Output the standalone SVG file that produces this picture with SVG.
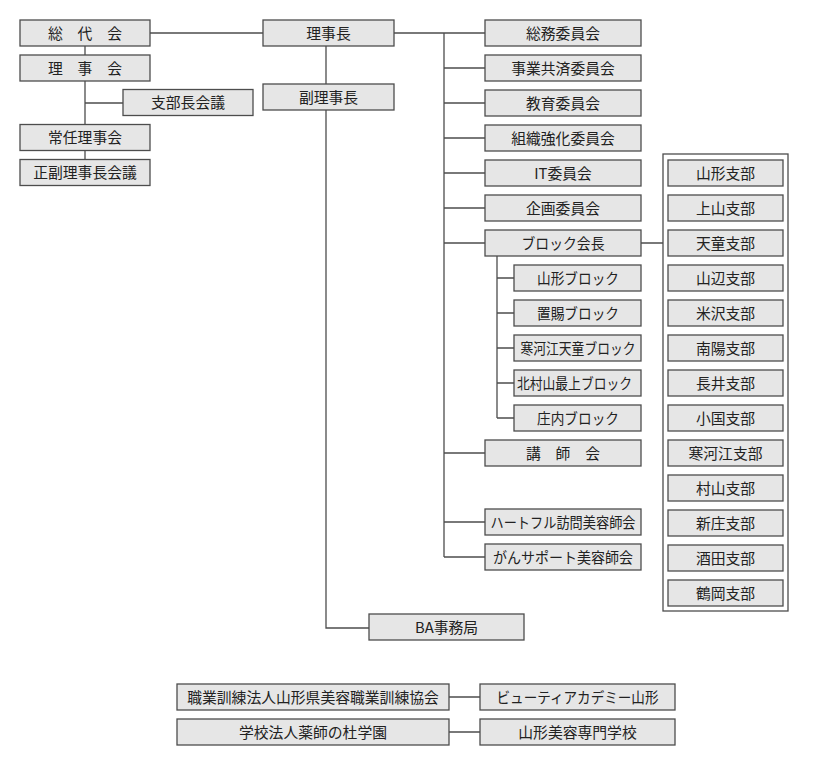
<svg xmlns="http://www.w3.org/2000/svg" width="813" height="765" viewBox="0 0 813 765">
<style>
.b{fill:#e6e6e6;stroke:#4d4d4d;stroke-width:1.3}
.f{fill:#ffffff;stroke:#4d4d4d;stroke-width:1.3}
.t{font-family:"Noto Sans CJK JP","Noto Sans",sans-serif;font-size:14.8px;fill:#222;text-anchor:middle}
.c{fill:none;stroke:#4d4d4d;stroke-width:1.3}
</style>
<rect width="813" height="765" fill="#ffffff"/>
<g id="connectors">
<path class="c" d="M150,33H263M394,33H485M444,33V557M444,68H485M444,103H485M444,138H485M444,173H485M444,208H485M444,243H485M444,453H485M444,522H485M444,557H485"/>
<path class="c" d="M85,46V159M85,103H123"/>
<path class="c" d="M326,46V84M326,110V628H369"/>
<path class="c" d="M641,243H663M497,256V418M497,278H514M497,313H514M497,348H514M497,383H514M497,418H514"/>
<path class="c" d="M449,697H480M449,732H480"/>
</g>
<g id="sodaikai"><rect class="b" x="20" y="20" width="130" height="26"/><text class="t" x="85" y="38.5">総　代　会</text></g>
<g id="rijikai"><rect class="b" x="20" y="55" width="130" height="26"/><text class="t" x="85" y="73.5">理　事　会</text></g>
<g id="shibuchokaigi"><rect class="b" x="123" y="89.5" width="130" height="26"/><text class="t" x="188" y="108">支部長会議</text></g>
<g id="joninrijikai"><rect class="b" x="20" y="124.5" width="130" height="26"/><text class="t" x="85" y="143">常任理事会</text></g>
<g id="seifukurijichokaigi"><rect class="b" x="20" y="159.5" width="130" height="26"/><text class="t" x="85" y="178">正副理事長会議</text></g>
<g id="rijicho"><rect class="b" x="263" y="20" width="131" height="26"/><text class="t" x="328.5" y="38.5">理事長</text></g>
<g id="fukurijicho"><rect class="b" x="263" y="84" width="131" height="26"/><text class="t" x="328.5" y="102.5">副理事長</text></g>
<g id="somu"><rect class="b" x="485" y="20" width="156" height="26"/><text class="t" x="563" y="38.5">総務委員会</text></g>
<g id="jigyokyosai"><rect class="b" x="485" y="55" width="156" height="26"/><text class="t" x="563" y="73.5">事業共済委員会</text></g>
<g id="kyoiku"><rect class="b" x="485" y="90" width="156" height="26"/><text class="t" x="563" y="108.5">教育委員会</text></g>
<g id="soshikikyoka"><rect class="b" x="485" y="125" width="156" height="26"/><text class="t" x="563" y="143.5">組織強化委員会</text></g>
<g id="it"><rect class="b" x="485" y="160" width="156" height="26"/><text class="t" x="563" y="178.5">IT委員会</text></g>
<g id="kikaku"><rect class="b" x="485" y="195" width="156" height="26"/><text class="t" x="563" y="213.5">企画委員会</text></g>
<g id="blockkaicho"><rect class="b" x="485" y="230" width="156" height="26"/><text class="t" x="563" y="248.5" textLength="83" lengthAdjust="spacingAndGlyphs">ブロック会長</text></g>
<g id="yamagatablock"><rect class="b" x="514" y="265" width="127" height="26"/><text class="t" x="578" y="283.5" textLength="82" lengthAdjust="spacingAndGlyphs">山形ブロック</text></g>
<g id="okitamablock"><rect class="b" x="514" y="300" width="127" height="26"/><text class="t" x="578" y="318.5" textLength="82" lengthAdjust="spacingAndGlyphs">置賜ブロック</text></g>
<g id="sagaetendoblock"><rect class="b" x="514" y="335" width="127" height="26"/><text class="t" x="578" y="353.5" textLength="115" lengthAdjust="spacingAndGlyphs">寒河江天童ブロック</text></g>
<g id="kitamurayamablock"><rect class="b" x="514" y="370" width="127" height="26"/><text class="t" x="574.5" y="388.5" textLength="115" lengthAdjust="spacingAndGlyphs">北村山最上ブロック</text></g>
<g id="shonaiblock"><rect class="b" x="514" y="405" width="127" height="26"/><text class="t" x="578" y="423.5" textLength="82" lengthAdjust="spacingAndGlyphs">庄内ブロック</text></g>
<g id="koshikai"><rect class="b" x="485" y="440" width="156" height="26"/><text class="t" x="563" y="458.5">講　師　会</text></g>
<g id="heartful"><rect class="b" x="485" y="509" width="156" height="26"/><text class="t" x="563" y="527.5" textLength="145" lengthAdjust="spacingAndGlyphs">ハートフル訪問美容師会</text></g>
<g id="gansupport"><rect class="b" x="485" y="544" width="156" height="26"/><text class="t" x="563" y="562.5" textLength="140" lengthAdjust="spacingAndGlyphs">がんサポート美容師会</text></g>
<g id="bajimukyoku"><rect class="b" x="369" y="614" width="155" height="26"/><text class="t" x="446.5" y="632.5">BA事務局</text></g>
<g id="shibu-frame"><rect class="f" x="663" y="154" width="125" height="457"/></g>
<g id="yamagatashibu"><rect class="b" x="668" y="160" width="115" height="26"/><text class="t" x="725.5" y="178.5">山形支部</text></g>
<g id="kaminoyamashibu"><rect class="b" x="668" y="195" width="115" height="26"/><text class="t" x="725.5" y="213.5">上山支部</text></g>
<g id="tendoshibu"><rect class="b" x="668" y="230" width="115" height="26"/><text class="t" x="725.5" y="248.5">天童支部</text></g>
<g id="yamanobeshibu"><rect class="b" x="668" y="265" width="115" height="26"/><text class="t" x="725.5" y="283.5">山辺支部</text></g>
<g id="yonezawashibu"><rect class="b" x="668" y="300" width="115" height="26"/><text class="t" x="725.5" y="318.5">米沢支部</text></g>
<g id="nanyoshibu"><rect class="b" x="668" y="335" width="115" height="26"/><text class="t" x="725.5" y="353.5">南陽支部</text></g>
<g id="nagaishibu"><rect class="b" x="668" y="370" width="115" height="26"/><text class="t" x="725.5" y="388.5">長井支部</text></g>
<g id="ogunishibu"><rect class="b" x="668" y="405" width="115" height="26"/><text class="t" x="725.5" y="423.5">小国支部</text></g>
<g id="sagaeshibu"><rect class="b" x="668" y="440" width="115" height="26"/><text class="t" x="725.5" y="458.5">寒河江支部</text></g>
<g id="murayamashibu"><rect class="b" x="668" y="475" width="115" height="26"/><text class="t" x="725.5" y="493.5">村山支部</text></g>
<g id="shinjoshibu"><rect class="b" x="668" y="510" width="115" height="26"/><text class="t" x="725.5" y="528.5">新庄支部</text></g>
<g id="sakatashibu"><rect class="b" x="668" y="545" width="115" height="26"/><text class="t" x="725.5" y="563.5">酒田支部</text></g>
<g id="tsuruokashibu"><rect class="b" x="668" y="580" width="115" height="26"/><text class="t" x="725.5" y="598.5">鶴岡支部</text></g>
<g id="shokugyokunren"><rect class="b" x="177" y="684" width="272" height="26"/><text class="t" x="313" y="702.5">職業訓練法人山形県美容職業訓練協会</text></g>
<g id="beautyacademy"><rect class="b" x="480" y="684" width="195" height="26"/><text class="t" x="577.5" y="702.5" textLength="162" lengthAdjust="spacingAndGlyphs">ビューティアカデミー山形</text></g>
<g id="yakushinomori"><rect class="b" x="177" y="719" width="272" height="26"/><text class="t" x="313" y="737.5">学校法人薬師の杜学園</text></g>
<g id="biyosenmon"><rect class="b" x="480" y="719" width="195" height="26"/><text class="t" x="577.5" y="737.5">山形美容専門学校</text></g>
</svg>
